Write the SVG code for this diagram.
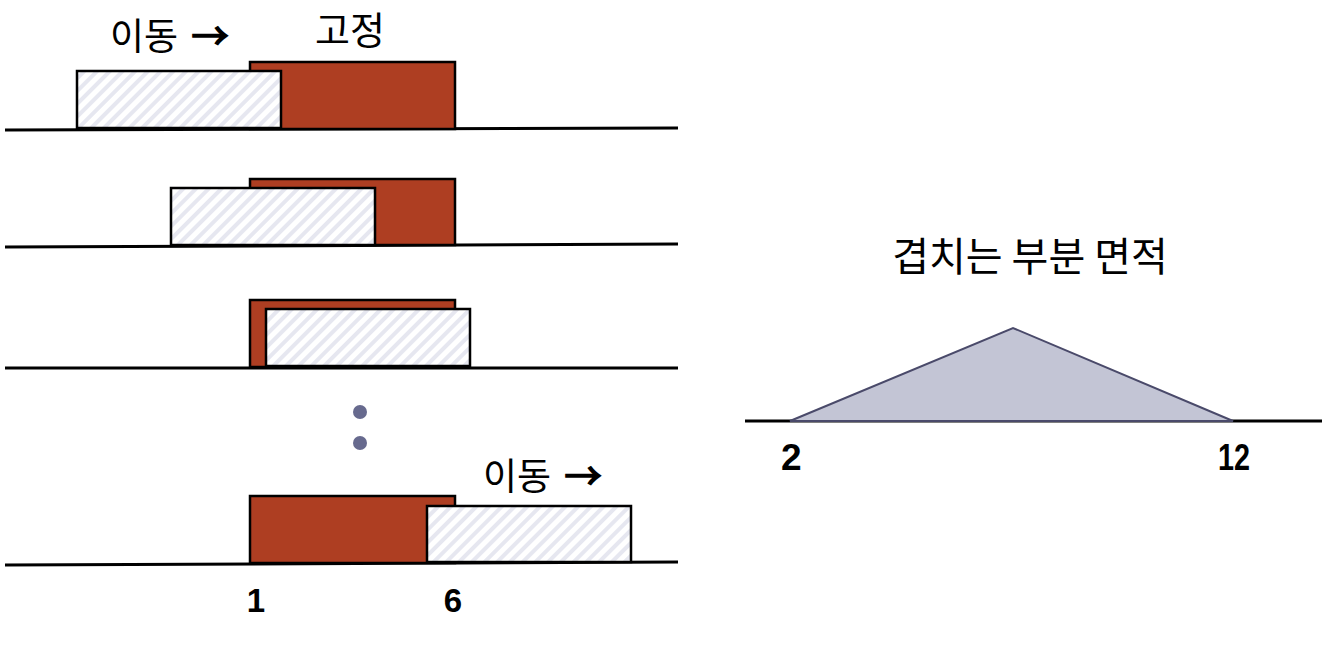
<svg xmlns="http://www.w3.org/2000/svg" width="1344" height="646" viewBox="0 0 1344 646">
<defs>
<pattern id="hatch" patternUnits="userSpaceOnUse" width="9" height="9" patternTransform="rotate(45)">
<rect width="9" height="9" fill="#ffffff"/>
<rect width="4" height="9" fill="#e6e7f0"/>
</pattern>
</defs>
<style>
.base{stroke:#000;stroke-width:3;fill:none}
.fixed{fill:#ae3e22;stroke:#000;stroke-width:2.5}
.move{fill:url(#hatch);stroke:#000;stroke-width:2.5}
.kr{font-family:"Noto Sans CJK KR","Noto Sans",sans-serif;font-size:37px;fill:#000}
.arr{stroke:#000;stroke-width:1.6}
.num{font-family:"Liberation Sans",sans-serif;font-weight:bold;font-size:37px;fill:#000}
</style>
<g id="connectors">
<line class="base" x1="5" y1="130" x2="678" y2="128"/>
<line class="base" x1="5" y1="247" x2="678" y2="244"/>
<line class="base" x1="5" y1="368" x2="678" y2="368"/>
<line class="base" x1="5" y1="565" x2="678" y2="562"/>
<line class="base" x1="745" y1="421" x2="1322" y2="421"/>
</g>
<g id="row1">
<rect class="fixed" x="250" y="62" width="205" height="67"/>
<rect class="move" x="77" y="71" width="204" height="57"/>
<text class="kr" x="110" y="50">이동 <tspan class="arr" dx="5">→</tspan></text>
<text class="kr" x="315" y="44" style="font-size:38px">고정</text>
</g>
<g id="row2">
<rect class="fixed" x="250" y="179" width="205" height="66"/>
<rect class="move" x="171" y="188" width="204" height="57"/>
</g>
<g id="row3">
<rect class="fixed" x="250" y="300" width="205" height="67"/>
<rect class="move" x="266" y="309" width="204" height="57"/>
</g>
<g id="dots">
<circle cx="360" cy="412" r="7" fill="#676a8e"/>
<circle cx="360" cy="443" r="7" fill="#676a8e"/>
</g>
<g id="row5">
<rect class="fixed" x="250" y="496" width="205" height="67"/>
<rect class="move" x="427" y="506" width="204" height="56"/>
<text class="kr" x="483" y="490">이동 <tspan class="arr" dx="5">→</tspan></text>
<text class="num" x="256" y="612" text-anchor="middle" style="font-size:33px">1</text>
<text class="num" x="453" y="612" text-anchor="middle" style="font-size:33px">6</text>
</g>
<g id="area">
<text class="kr" x="1030" y="271" text-anchor="middle" style="font-size:40px">겹치는 부분 면적</text>
<polygon points="790,421 1013,328 1233,421" fill="#c3c5d5" stroke="#4a4a6a" stroke-width="2"/>
<text class="num" x="781" y="470">2</text>
<text class="num" x="1218" y="470" textLength="32" lengthAdjust="spacingAndGlyphs">12</text>
</g>
</svg>
